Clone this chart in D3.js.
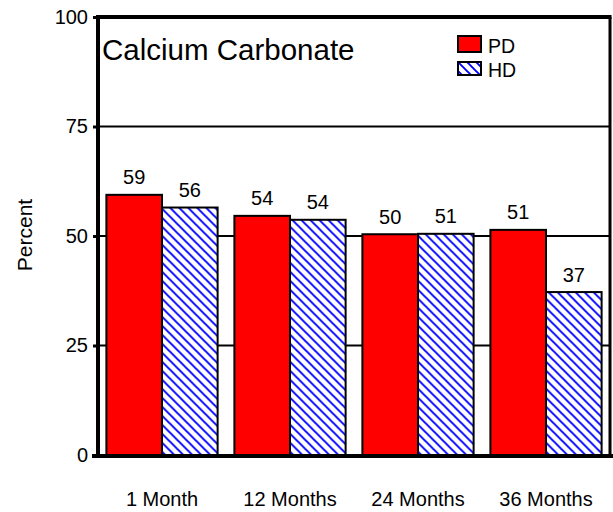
<!DOCTYPE html>
<html><head><meta charset="utf-8">
<script src="https://cdnjs.cloudflare.com/ajax/libs/d3/7.8.5/d3.min.js"></script>
<style>body{margin:0;background:#fff}svg{display:block}text{font-family:"Liberation Sans",Arial,sans-serif;fill:#000}</style>
</head><body><svg width="613" height="512"></svg>
<script>
const categories = ["1 Month","12 Months","24 Months","36 Months"];
const seriesNames = ["PD","HD"];
const pdValues = [59.4, 54.6, 50.4, 51.4];
const hdValues = [56.5, 53.7, 50.5, 37.2];
const pdLabels = ["59","54","50","51"];
const hdLabels = ["56","54","51","37"];
const yTicks = [0,25,50,75,100];
const title = "Calcium Carbonate";
const yTitle = "Percent";

const svg = d3.select("svg");
const L=98, R=610, T=17, B=455;
const FONT = "Liberation Sans, Arial, sans-serif";
const defs = svg.append("defs");
const P = 9;
const pat = defs.append("pattern").attr("id","hatch").attr("patternUnits","userSpaceOnUse")
  .attr("width",P).attr("height",P);
pat.append("rect").attr("width",P).attr("height",P).attr("fill","#fff");
pat.append("path").attr("d",`M-2,-2 L${P+2},${P+2} M-2,${P-2} L2,${P+2} M${P-2},-2 L${P+2},2`)
  .attr("stroke","#0000ff").attr("stroke-width",1.9);

const x0 = d3.scaleBand().domain(categories).range([L,R]).paddingInner(0.131).paddingOuter(0.0655);
const x1 = d3.scaleBand().domain(seriesNames).range([0,x0.bandwidth()]);
const y = d3.scaleLinear().domain([0,100]).range([B,T]);

// gridlines
svg.append("g").selectAll("line").data(yTicks.filter(t=>t>0 && t<100)).join("line")
  .attr("x1",L).attr("x2",R).attr("y1",d=>y(d)).attr("y2",d=>y(d))
  .attr("stroke","#000").attr("stroke-width",2);

const data = categories.map((c,i)=>({c, vals:[
  {s:"PD", v:pdValues[i], lab:pdLabels[i]},
  {s:"HD", v:hdValues[i], lab:hdLabels[i]}]}));

const g = svg.append("g").selectAll("g").data(data).join("g")
  .attr("transform",d=>`translate(${x0(d.c)},0)`);
g.selectAll("rect").data(d=>d.vals).join("rect")
  .attr("x",d=>x1(d.s)).attr("width",x1.bandwidth())
  .attr("y",d=>y(d.v)).attr("height",d=>B-y(d.v))
  .attr("fill",d=>d.s==="PD"?"#ff0000":"url(#hatch)")
  .attr("stroke","#000").attr("stroke-width",2);
g.selectAll("text").data(d=>d.vals).join("text")
  .attr("x",d=>x1(d.s)+x1.bandwidth()/2).attr("y",d=>y(d.v)-10.5)
  .attr("text-anchor","middle").attr("font-size",20).text(d=>d.lab);

// frame: top and right border
svg.append("line").attr("x1",L).attr("x2",R+1.5).attr("y1",T).attr("y2",T).attr("stroke","#000").attr("stroke-width",4);
svg.append("line").attr("x1",R).attr("x2",R).attr("y1",T).attr("y2",B).attr("stroke","#000").attr("stroke-width",3);

// axes
const yAxis = svg.append("g").attr("transform",`translate(${L},0)`)
  .call(d3.axisLeft(y).tickValues(yTicks).tickSize(5).tickPadding(5));
yAxis.select(".domain").attr("stroke-width",4).attr("d",`M0,${T-2}V${B+2}`);
yAxis.selectAll(".tick line").attr("stroke-width",3);
yAxis.selectAll("text").attr("font-size",20).attr("font-family",FONT);

svg.append("line").attr("x1",L-6).attr("x2",613).attr("y1",B+1).attr("y2",B+1).attr("stroke","#000").attr("stroke-width",4);

const xAxis = svg.append("g").attr("transform",`translate(0,${B})`)
  .call(d3.axisBottom(x0).tickSize(0).tickPadding(37));
xAxis.select(".domain").remove();
xAxis.selectAll("text").attr("font-size",20).attr("font-family",FONT);

// titles
svg.append("text").attr("x",102).attr("y",60).attr("font-size",29.5).text(title);
svg.append("text").attr("transform","translate(32,235) rotate(-90)").attr("text-anchor","middle")
  .attr("font-size",21).text(yTitle);

// legend
const leg = [{s:"PD",fill:"#ff0000",y:36,h:16,ty:52.5},{s:"HD",fill:"url(#hatch)",y:62,h:13,ty:76.5}];
const lg = svg.append("g").selectAll("g").data(leg).join("g");
lg.append("rect").attr("x",458).attr("y",d=>d.y).attr("width",23).attr("height",d=>d.h)
  .attr("fill",d=>d.fill).attr("stroke","#000").attr("stroke-width",2);
lg.append("text").attr("x",488).attr("y",d=>d.ty).attr("font-size",19.5).text(d=>d.s);
</script></body></html>
